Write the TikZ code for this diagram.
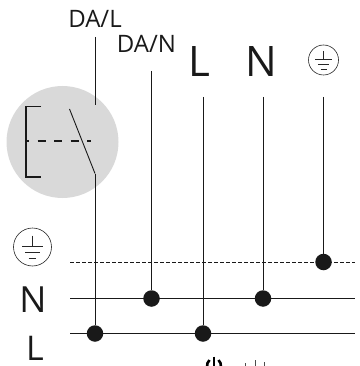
\documentclass[tikz,border=0pt]{standalone}
\usepackage{fontspec}
\setmainfont{Open Sans}
\tikzset{
  wire/.style={line width=1pt,draw=black!90},
  dot/.style={circle,fill=black!90,draw=none,minimum size=16.5pt,inner sep=0pt},
  lbl/.style={inner sep=0pt,text=black!90,anchor=base},
  earthring/.style={circle,draw=black!85,line width=0.6pt,inner sep=0pt},
}
\newcommand{\earthsym}[4]{% name, x, y, radius
  \node[earthring,minimum size=#4*2pt] (#1) at (#2,#3) {};
  \draw[black!85,line width=0.6pt] (#2,#3-#4*0.6) -- (#2,#3-#4*0.05);
  \draw[black!85,line width=0.6pt] (#2-#4*0.55,#3-#4*0.05) -- (#2+#4*0.55,#3-#4*0.05);
  \draw[black!85,line width=0.6pt] (#2-#4*0.38,#3+#4*0.28) -- (#2+#4*0.38,#3+#4*0.28);
  \draw[black!85,line width=0.6pt] (#2-#4*0.2,#3+#4*0.6) -- (#2+#4*0.2,#3+#4*0.6);
}
\begin{document}
\begin{tikzpicture}[x=1pt,y=-1pt]
\useasboundingbox (0,0) rectangle (359,366);
\fill[black!15] (62.5,142) circle (56);
% switch
\draw[black!90,line width=1.2pt] (41,106.5) -- (26,106.5) -- (26,177) -- (41,177);
\draw[black!90,line width=1.2pt,dash pattern=on 8pt off 8.5pt,dash phase=6pt] (27,141) -- (91,141);
\draw[black!90,line width=0.9pt] (69.5,109) -- (95,173.5);
% coordinates
\coordinate (dal) at (95,37);
\coordinate (dalb) at (95,104.7);
\coordinate (dals) at (95,173.5);
\coordinate (dan) at (151.5,71);
\coordinate (lt) at (203,97);
\coordinate (nt) at (263,97);
\coordinate (et) at (323.5,97);
\node[dot] (d1) at (95,333.5) {};
\node[dot] (d2) at (151.5,298.5) {};
\node[dot] (d3) at (203,333.5) {};
\node[dot] (d4) at (263,298.5) {};
\node[dot] (d5) at (323.5,262) {};
\coordinate (ll) at (70,333.5);
\coordinate (lr) at (355,333.5);
\coordinate (nl) at (70,298.5);
\coordinate (nr) at (355,298.5);
\coordinate (el) at (70,262);
\coordinate (er) at (355,262);
\draw[wire] (dal) -- (dalb);
\draw[wire] (dals) -- (d1);
\draw[wire] (dan) -- (d2);
\draw[wire] (lt) -- (d3);
\draw[wire] (nt) -- (d4);
\draw[wire] (et) -- (d5);
\draw[wire] (ll) -- (lr);
\draw[wire] (nl) -- (nr);
\draw[wire,dash pattern=on 3.5pt off 2.5pt] (el) -- (er);
% labels
\node[lbl,font=\fontsize{24}{24}\selectfont] (tdal) at (95,28) {DA/L};
\node[lbl,font=\fontsize{24}{24}\selectfont] (tdan) at (146.5,52.7) {DA/N};
\node[lbl,font=\fontsize{42}{42}\selectfont] (tl) at (199,77) {L};
\node[lbl,font=\fontsize{42}{42}\selectfont] (tn) at (261,77) {N};
\node[lbl,font=\fontsize{36}{36}\selectfont] (ln) at (33,312) {N};
\node[lbl,font=\fontsize{34}{34}\selectfont] (ll2) at (35,360) {L};
\earthsym{e1}{323.5}{60}{15}
\earthsym{e2}{32.5}{247}{19}
% clipped glyphs at the bottom
\begin{scope}
\clip (0,0) rectangle (359,366);
\draw[black,line width=2.4pt] (214,356.5) -- (214,366);
\draw[black,line width=2.6pt] (209.5,360) .. controls (207.5,362) and (207,364) .. (207,367);
\draw[black,line width=2.6pt] (218.5,360) .. controls (220.5,362) and (221,364) .. (221,367);
\draw[black!70,line width=0.6pt] (245,366) -- (245,363);
\draw[black!70,line width=0.6pt] (255.5,366) -- (255.5,360);
\draw[black!70,line width=0.6pt] (264,366) -- (264,362);
\end{scope}
\end{tikzpicture}
\end{document}
